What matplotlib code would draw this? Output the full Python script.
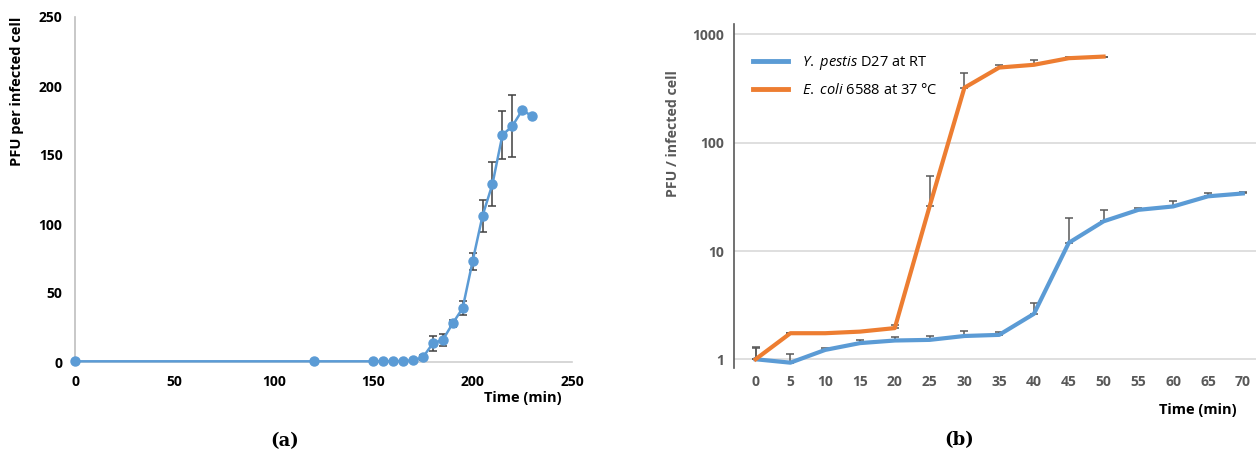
import numpy as np
import matplotlib
matplotlib.use('Agg')
import matplotlib.pyplot as plt
from matplotlib.lines import Line2D

# panel (a) one-step growth curve
t_a = [0, 120, 150, 155, 160, 165, 170, 175, 180, 185, 190, 195, 200, 205, 210, 215, 220, 225, 230]
pfu_a = [0.5, 0.5, 0.5, 0.5, 0.6, 0.7, 1.2, 3.4, 13.5, 16, 28, 39, 73, 106, 129, 164.5, 171, 182.6, 178]
err_a = [0, 0, 0, 0, 0, 0, 0, 2, 5.5, 4.5, 2.5, 5, 6, 11.6, 15.6, 17.4, 22.3, 0, 0]

# panel (b) log scale, category axis
t_b = ['0', '5', '10', '15', '20', '25', '30', '35', '40', '45', '50', '55', '60', '65', '70']
yp = [1.0, 0.93, 1.22, 1.41, 1.49, 1.51, 1.64, 1.68, 2.63, 11.9, 18.8, 24, 25.8, 32, 34]
yp_top = [1.26, 1.12, 1.28, 1.5, 1.62, 1.65, 1.83, 1.8, 3.34, 20, 23.7, 25, 29, 34, 35.3]
ec = [1.0, 1.74, 1.74, 1.8, 1.94, 25.8, 322, 495, 525, 604, 625]
ec_top = [1.31, 1.74, 1.74, 1.8, 2.08, 49, 437, 525, 580, 625, 625]

blue = '#5B9BD5'
orange = '#ED7D31'

plt.rcParams['font.family'] = ['Open Sans', 'DejaVu Sans']
plt.rcParams['mathtext.fontset'] = 'custom'
plt.rcParams['mathtext.rm'] = 'Open Sans'
plt.rcParams['mathtext.it'] = 'Open Sans:italic'

fig = plt.figure(figsize=(12.58, 4.53), dpi=100)
W, H = 1258.0, 453.0

# ---------- (a)
ax = fig.add_axes([75/W, (H-362)/H, 497/W, 345/H])
ax.errorbar(t_a, pfu_a, yerr=err_a, color=blue, lw=1.8, marker='o', ms=6.5,
            ecolor='#404040', elinewidth=1.1, capsize=3, capthick=1.1, clip_on=False, zorder=3)
ax.set_xlim(0, 250)
ax.set_ylim(0, 250)
ax.set_xticks([0, 50, 100, 150, 200, 250])
ax.set_yticks([0, 50, 100, 150, 200, 250])
for s in ['top', 'right']:
    ax.spines[s].set_visible(False)
ax.spines['left'].set_color('#BFBFBF')
ax.spines['bottom'].set_color('#D0D0D0')
ax.spines['left'].set_linewidth(1.2)
ax.spines['bottom'].set_linewidth(1.2)
ax.tick_params(length=0, labelsize=10, pad=9)
ax.tick_params(axis='y', pad=9)
for lb in ax.get_xticklabels() + ax.get_yticklabels():
    lb.set_fontweight('bold')
ax.set_ylabel('PFU per infected cell', fontsize=10.5, fontweight='bold')
ax.yaxis.set_label_coords(-(75-17.5)/497, (362-91.5)/345)
ax.yaxis.label.set_va('center')
fig.text(523/W, (H-398)/H, 'Time (min)', ha='center', va='center', fontsize=10.5, fontweight='bold')
fig.text(285/W, (H-441)/H, '(a)', ha='center', va='center', fontsize=13, fontweight='bold',
         family='DejaVu Serif')

# ---------- (b)
bx = fig.add_axes([734/W, (H-368.3)/H, 522/W, 344.3/H])
xb = np.arange(len(t_b))
xe = xb[:len(ec)]
bx.errorbar(xb, yp, yerr=[np.zeros(len(yp)), np.array(yp_top) - np.array(yp)], color=blue, lw=3,
            ecolor='#595959', elinewidth=1.1, capsize=3, capthick=1.1, zorder=3)
bx.errorbar(xe, ec, yerr=[np.zeros(len(ec)), np.array(ec_top) - np.array(ec)], color=orange, lw=3,
            ecolor='#595959', elinewidth=1.1, capsize=3, capthick=1.1, zorder=3)
bx.set_yscale('log')
bx.set_ylim(0.825, 1250)
bx.set_xlim(-0.62, 14.38)
bx.set_xticks(xb)
bx.set_xticklabels(t_b)
bx.set_yticks([1, 10, 100, 1000])
bx.set_yticklabels(['1', '10', '100', '1000'])
bx.minorticks_off()
bx.yaxis.grid(True, color='#D9D9D9', lw=1.2)
bx.set_axisbelow(True)
for s in ['top', 'right', 'bottom']:
    bx.spines[s].set_visible(False)
bx.spines['left'].set_color('#595959')
bx.spines['left'].set_linewidth(1.2)
bx.tick_params(length=0, labelsize=10, labelcolor='#595959')
bx.tick_params(axis='x', pad=5)
bx.tick_params(axis='y', pad=7)
for lb in bx.get_xticklabels() + bx.get_yticklabels():
    lb.set_fontweight('bold')
bx.set_ylabel('PFU / infected cell', fontsize=10.2, fontweight='bold', color='#595959')
bx.yaxis.set_label_coords(-(734-673)/522, (368.3-134)/344.3)
bx.yaxis.label.set_va('center')

handles = [Line2D([], [], color=blue, lw=3.5), Line2D([], [], color=orange, lw=3.5)]
labels = [r'$\mathit{Y.}$ $\mathit{pestis}$ D27 at RT', r'$\mathit{E.}$ $\mathit{coli}$ 6588 at 37 °C']
bx.legend(handles, labels, loc='upper left', bbox_to_anchor=(0.025, 0.93), frameon=False, fontsize=10.5,
          handlelength=2.4, handletextpad=1.0, labelspacing=0.75, borderaxespad=0)
fig.text(1198/W, (H-410)/H, 'Time (min)', ha='center', va='center', fontsize=10.5, fontweight='bold')
fig.text(959/W, (H-440)/H, '(b)', ha='center', va='center', fontsize=13, fontweight='bold',
         family='DejaVu Serif')

plt.savefig('out.png', dpi=100)
